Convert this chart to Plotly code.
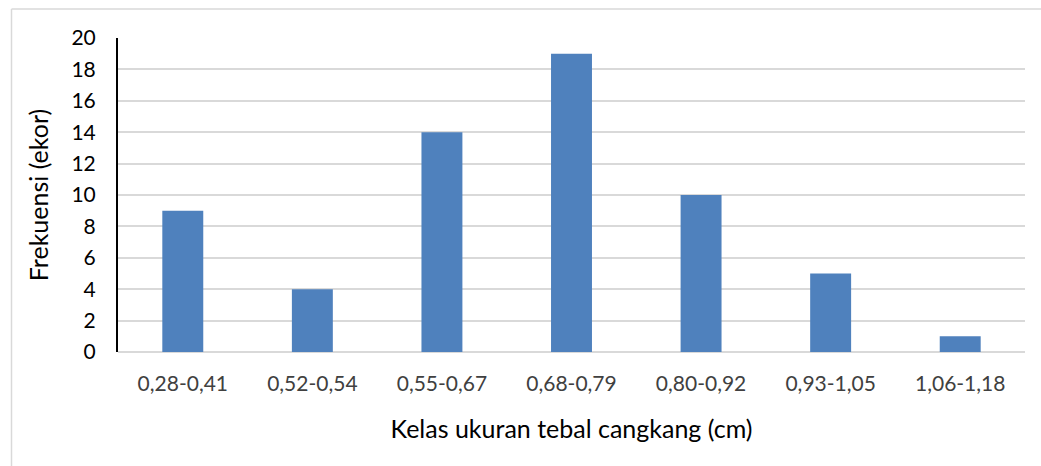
import plotly.graph_objects as go

# Frequency of shell thickness classes
kelas = ["0,28-0,41", "0,52-0,54", "0,55-0,67", "0,68-0,79",
         "0,80-0,92", "0,93-1,05", "1,06-1,18"]
frekuensi = [9, 4, 14, 19, 10, 5, 1]
y_ticks = list(range(0, 21, 2))

W, H = 1041, 466
ML, MR, MT, MB = 118, 16, 38, 114
pw, ph = W - ML - MR, H - MT - MB


def px_x(x):
    return (x - ML) / pw


def px_y(y):
    return (H - MB - y) / ph


FONT = "Lato"

fig = go.Figure(
    go.Bar(
        x=kelas,
        y=frekuensi,
        marker=dict(color="#4F81BD", line=dict(width=0)),
    )
)

fig.update_layout(
    width=W,
    height=H,
    margin=dict(l=ML, r=MR, t=MT, b=MB),
    paper_bgcolor="white",
    plot_bgcolor="white",
    bargap=0.684,
    showlegend=False,
    font=dict(family=FONT, color="#404040"),
    xaxis=dict(
        title=dict(text="Kelas ukuran tebal cangkang (cm)",
                   font=dict(family=FONT, size=25, color="#000000"),
                   standoff=26),
        tickfont=dict(family=FONT, size=21, color="#404040"),
        showgrid=False,
        showline=False,
        ticks="outside",
        ticklen=13,
        tickcolor="rgba(0,0,0,0)",
        zeroline=False,
    ),
    yaxis=dict(
        title=dict(text="Frekuensi (ekor)",
                   font=dict(family=FONT, size=25, color="#000000"),
                   standoff=16),
        range=[0, 20],
        tickvals=y_ticks,
        tickfont=dict(family=FONT, size=21, color="#000000"),
        showgrid=True,
        gridcolor="#D9D9D9",
        gridwidth=1.5,
        showline=True,
        linecolor="#000000",
        linewidth=2,
        ticks="outside",
        ticklen=16,
        tickcolor="rgba(0,0,0,0)",
        zeroline=True,
        zerolinecolor="#D9D9D9",
        zerolinewidth=2,
    ),
    shapes=[
        dict(type="line", xref="paper", yref="paper",
             x0=px_x(11.5), x1=px_x(W + 5), y0=px_y(9), y1=px_y(9),
             line=dict(color="#D9D9D9", width=1.5)),
        dict(type="line", xref="paper", yref="paper",
             x0=px_x(11.5), x1=px_x(11.5), y0=px_y(9), y1=px_y(H + 5),
             line=dict(color="#D9D9D9", width=1.5)),
    ],
)

fig.write_html("out.html")
